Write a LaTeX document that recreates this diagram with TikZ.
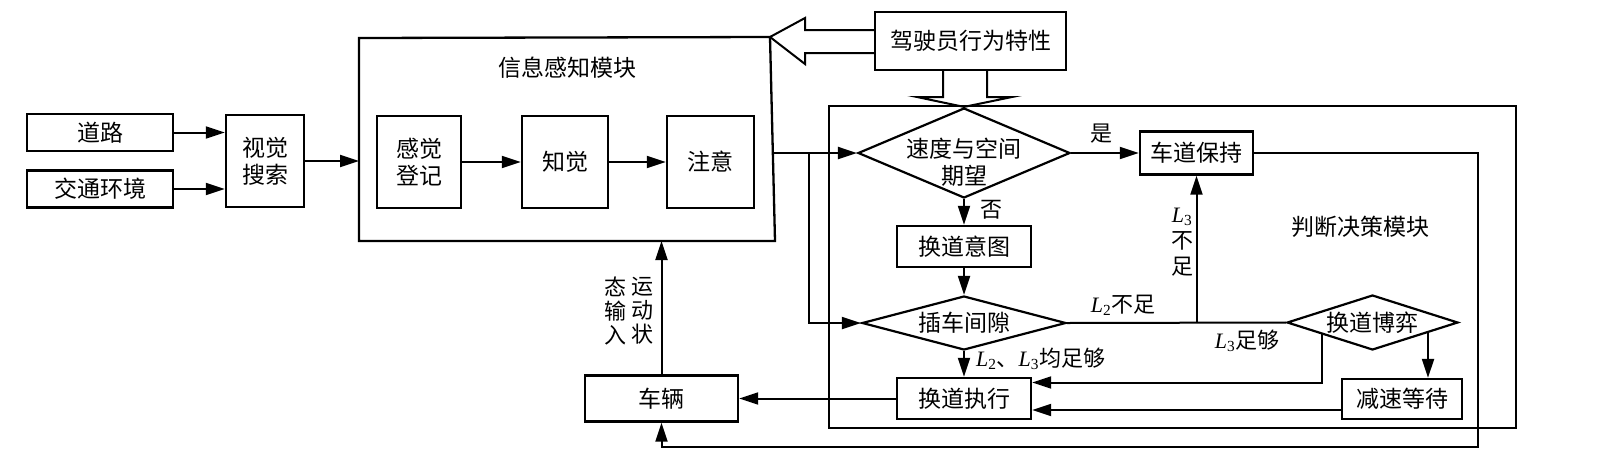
\documentclass[tikz,border=0pt]{standalone}
\usepackage{fontspec}
\setmainfont{Noto Sans CJK SC}
\newfontfamily\lat{Liberation Serif}
\usetikzlibrary{arrows.meta,shapes.geometric}
\newcommand\myfs{\fontsize{23}{27}\selectfont}
\newcommand\mysm{\fontsize{22}{25}\selectfont}
\newcommand\LL[1]{{\lat\itshape L}\textsubscript{\lat #1}}
\tikzset{
  box/.style={draw, line width=2.3pt, inner sep=0pt, font=\myfs, align=center},
  dia/.style={draw, diamond, line width=2.2pt, inner sep=0pt},
  ln/.style={line width=2pt},
  arr/.style={line width=2pt, -{Triangle[length=19pt,width=12pt]}},
  hollow/.style={line width=2pt, line join=miter},
  lab/.style={inner sep=0pt, font=\myfs, align=center},
  slab/.style={inner sep=0pt, font=\mysm, align=center}
}
\begin{document}
\begin{tikzpicture}[x=1pt,y=-1pt]
\useasboundingbox (0,0) rectangle (1610,456);
% left inputs
\node[box, minimum width=146pt, minimum height=37pt] (road) at (100,132.5) {道路};
\node[box, minimum width=146pt, minimum height=37pt] (traf) at (100,189) {交通环境};
\node[box, minimum width=78pt, minimum height=92pt] (vis) at (265,161) {视觉\\搜索};
\draw[arr] (road.east) -- (road.east -| vis.west);
\draw[arr] (traf.east) -- (traf.east -| vis.west);
% information module
\draw[line width=2.3pt] (359,38) coordinate (imNW) -- (770,37) coordinate (imNE)
  -- (775,241) coordinate (imSE) -- (359,241) coordinate (imSW) -- cycle;
\node[lab] (imT) at (567,68) {信息感知模块};
\coordinate (imIn) at (359,161);
\coordinate (imOut) at (772.5,153);
\draw[arr] (vis.east) -- (imIn);
\node[box, minimum width=84pt, minimum height=92pt] (sr) at (419,162) {感觉\\登记};
\node[box, minimum width=86pt, minimum height=92pt] (pc) at (565,162) {知觉};
\node[box, minimum width=87pt, minimum height=92pt] (attn) at (710.5,162) {注意};
\draw[arr] (sr) -- (pc);
\draw[arr] (pc) -- (attn);
% driver characteristics
\node[box, minimum width=191pt, minimum height=58pt] (drv) at (970.5,41) {驾驶员行为特性};
\draw[hollow] ([yshift=11pt]drv.west) -- (805,30) -- (805,18) -- (imNE) -- (805,64)
  -- (805,53) -- ([yshift=-12pt]drv.west);
% decision module
\node[draw, line width=2.3pt, inner sep=0pt, minimum width=687pt, minimum height=322pt] (dm) at (1172.5,267) {};
\node[dia, minimum width=212pt, minimum height=90pt] (d1) at (964,153) {};
\node[lab] (d1t) at (964,162) {速度与空间\\期望};
\draw[hollow] (943,70) -- (943,97) -- (917,97) -- (d1.north) -- (1012,97) -- (987,97) -- (987,70);
\node[box, minimum width=113pt, minimum height=43pt] (keep) at (1196.5,153) {车道保持};
\node[box, minimum width=134pt, minimum height=41pt] (intent) at (964,246.5) {换道意图};
\node[dia, minimum width=204pt, minimum height=54pt] (d2) at (964,323) {};
\node[lab] (d2t) at (964,323) {插车间隙};
\node[box, minimum width=134pt, minimum height=41pt] (exec) at (964,398.5) {换道执行};
\node[dia, minimum width=171pt, minimum height=55pt] (d3) at (1372.5,322.5) {};
\node[lab] (d3t) at (1372.5,323) {换道博弈};
\node[box, minimum width=120pt, minimum height=40pt] (wait) at (1402,399) {减速等待};
\node[lab] (dmT) at (1360,227) {判断决策模块};
% info -> decisions
\coordinate (br) at (809,153);
\draw[arr] (imOut) -- (d1.west);
\draw[arr] (br) |- (d2.west);
\draw[arr] (d1.east) -- (keep.west);
\node[slab] (yes) at (1101,134) {是};
\draw[arr] (d1.south) -- (intent.north);
\node[slab] (no) at (991,210) {否};
\draw[arr] (intent.south) -- (d2.north);
\draw[arr] (d2.south) -- (exec.north);
\node[slab, anchor=west] (both) at (976,359) {\LL2、\LL3均足够};
\draw[ln] (d2.east) -- (d3.west);
\coordinate (b2) at (keep.south |- d2.east);
\draw[arr] (b2) -- (keep.south);
\node[slab] (l2n) at (1123,305) {\LL2不足};
\node[slab, font=\fontsize{22}{26}\selectfont] (l3n) at (1182,242) {\LL3\\不\\足};
\node[slab] (l3e) at (1247,341) {\LL3足够};
\coordinate (g1) at (1322,334);
\coordinate (g2) at (1428,332.5);
\draw[arr] (g1) |- ([yshift=16pt]exec.east);
\draw[arr] (g2) -- (g2 |- wait.north);
\draw[arr] ([yshift=-11pt]wait.west) -- ([yshift=-11pt]wait.west -| exec.east);
% vehicle
\node[box, minimum width=153pt, minimum height=46pt] (car) at (661.5,398.5) {车辆};
\draw[arr] (exec.west) -- (car.east);
\draw[arr] (keep.east) -| (1478,447) -| (car.south);
\draw[arr] (car.north) -- (car.north |- imSW);
\node[slab, font=\fontsize{22}{24}\selectfont] (mv1) at (642,311) {运\\动\\状};
\node[slab, font=\fontsize{22}{24}\selectfont] (mv2) at (615,311) {态\\输\\入};
\end{tikzpicture}
\end{document}
